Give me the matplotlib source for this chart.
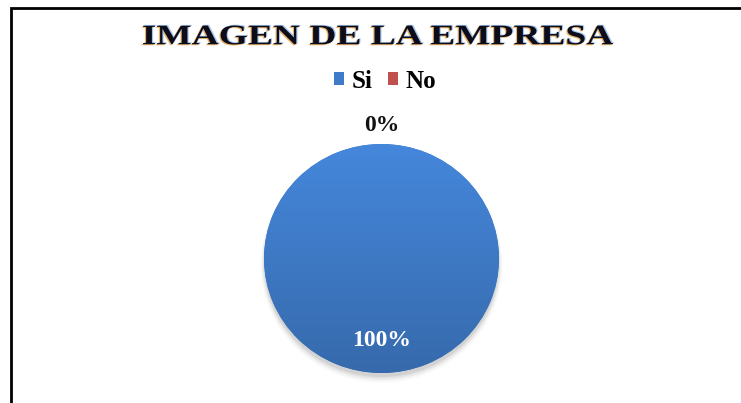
import numpy as np
import matplotlib
matplotlib.use('Agg')
import matplotlib.pyplot as plt
from matplotlib.patches import Rectangle, Patch, PathPatch
from matplotlib.textpath import TextPath
from matplotlib.font_manager import FontProperties
from matplotlib.transforms import Affine2D

title = 'IMAGEN DE LA EMPRESA'
categories = ['Si', 'No']
values = [100, 0]
pct_labels = ['100%', '0%']
colors = ['#3f7bc8', '#c0504d']

W, H, DPI = 741, 403, 100
SERIF = 'Liberation Serif'

fig = plt.figure(figsize=(W / DPI, H / DPI), dpi=DPI)

# outer frame (only top and left edges fall inside the picture)
fig.patches.append(Rectangle((11 / W, -0.1), 1.2, 1.1 - 8 / H,
                             transform=fig.transFigure, fill=False,
                             lw=2.0, ec='black', zorder=0))

# pie axes: centre (381.5, 258.5) px, radii 117.5 x 114.5 px
cx, cy, rx, ry = 381.5, 258.5, 117.5, 114.5
pad = 1.15
ax = fig.add_axes([(cx - rx * pad) / W, (H - cy - ry * pad) / H,
                   2 * rx * pad / W, 2 * ry * pad / H])
ax.set_xlim(-pad, pad)
ax.set_ylim(-pad, pad)
ax.set_aspect('auto')
ax.axis('off')

# soft shadow below the pie
for i, a in enumerate(np.linspace(0.06, 0.01, 5)):
    ax.add_patch(plt.Circle((0.0, -0.035 - 0.006 * i), 1.0 + 0.008 * i,
                            color='black', alpha=a, lw=0, zorder=0))

wedges, _ = ax.pie(values, colors=colors, startangle=90, counterclock=False,
                   radius=1.0, wedgeprops=dict(lw=0))
ax.set_aspect('auto')

# vertical gradient inside each wedge
grad = np.linspace(0, 1, 256).reshape(-1, 1)
for w, c in zip(wedges, colors):
    if w.theta1 == w.theta2:
        continue
    base = np.array(matplotlib.colors.to_rgb(c))
    top = np.clip(base * 1.1, 0, 1)
    bot = base * 0.86
    img = top[None, None, :] * (1 - grad[..., None]) + bot[None, None, :] * grad[..., None]
    im = ax.imshow(img, extent=(-1, 1, -1, 1), origin='upper', zorder=2, aspect='auto')
    im.set_clip_path(w)
ax.set_xlim(-pad, pad)
ax.set_ylim(-pad, pad)

# percentage labels at each wedge's mid angle
dists = [0.72, 1.16]
tcols = ['white', '#111111']
for w, lab, d, tc in zip(wedges, pct_labels, dists, tcols):
    ang = np.deg2rad((w.theta1 + w.theta2) / 2)
    ax.text(d * np.cos(ang), d * np.sin(ang), lab, ha='center', va='center',
            fontsize=17, fontweight='bold', family=SERIF, color=tc, zorder=5)

# wide title: text path stretched horizontally
fp = FontProperties(family=SERIF, weight='bold')
tp = TextPath((0, 0), title, size=28, prop=fp)
bb = tp.get_extents()
sx = 470 / bb.width
sy = 19 / bb.height
tx, ty = 378, H - 35
for off, col, a in [((-1.2, -1.0), '#e8a040', 0.8), ((1.2, 0.8), '#8fb8e8', 0.8), ((0, 0), '#0c0c1a', 1.0)]:
    tr = (Affine2D().translate(-bb.x0 - bb.width / 2, -bb.y0 - bb.height / 2)
          .scale(sx, sy).translate(tx + off[0], ty + off[1])
          .scale(1 / W, 1 / H))
    fig.patches.append(PathPatch(tr.transform_path(tp), fc=col, ec='none', alpha=a,
                                 transform=fig.transFigure))

handles = [Patch(facecolor=c, edgecolor='none') for c in colors]
fig.legend(handles, categories, loc='center', bbox_to_anchor=(385 / W, 1 - 81 / H),
           ncol=2, frameon=False, handlelength=0.4, handleheight=0.45,
           handletextpad=0.3, columnspacing=0.6,
           prop=dict(family=SERIF, weight='bold', size=18))

fig.savefig('out.png', dpi=DPI)
